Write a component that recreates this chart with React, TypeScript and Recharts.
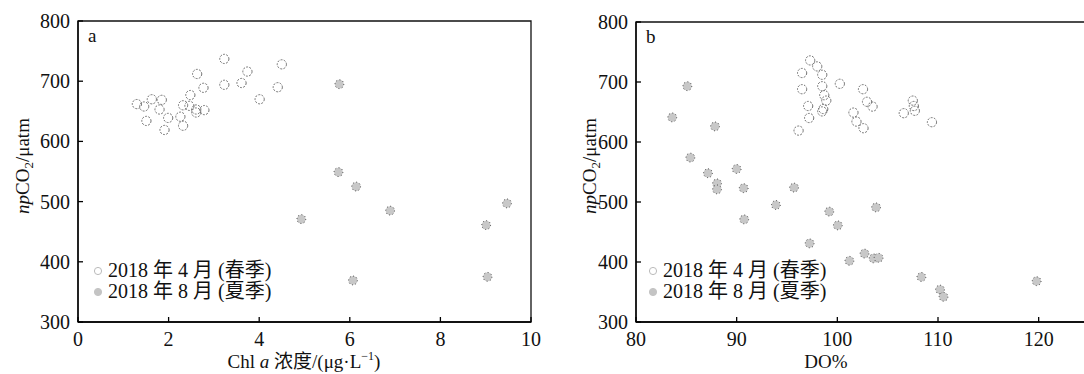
import { ScatterChart, Scatter, XAxis, YAxis, ReferenceArea, Label } from "recharts";

// panel a: Chl a vs npCO2
const springChl = [1.3, 1.46, 1.63, 1.85, 1.8, 1.51, 1.99, 1.91, 2.26, 2.32, 2.32, 2.46, 2.48, 2.61, 2.61, 2.79, 2.77, 2.63, 3.23, 3.23, 3.61, 3.74, 4.01, 4.41, 4.5];
const springCo2A = [662, 658, 670, 669, 653, 634, 639, 619, 641, 626, 660, 659, 677, 653, 648, 652, 689, 712, 737, 694, 697, 716, 670, 690, 728];
const summerChl = [5.77, 5.75, 6.14, 4.93, 6.89, 9.47, 9.01, 6.07, 9.04];
const summerCo2A = [695, 549, 525, 471, 485, 497, 461, 369, 375];

// panel b: DO% vs npCO2
const springDO = [97.3, 98.0, 96.5, 98.5, 96.5, 98.5, 98.7, 98.9, 98.6, 98.5, 97.1, 97.2, 96.15, 100.25, 102.55, 102.95, 103.5, 101.6, 101.9, 102.6, 107.5, 107.6, 107.7, 106.6, 109.4];
const springCo2B = [736, 726, 715, 712, 688, 693, 678, 669, 655, 651, 660, 640, 619, 697, 688, 667, 659, 649, 634, 623, 669, 660, 652, 648, 633];
const summerDO = [83.6, 85.1, 85.4, 87.15, 87.85, 88.05, 88.05, 90.0, 90.7, 90.75, 93.9, 95.7, 97.25, 99.2, 100.05, 101.2, 102.7, 103.6, 104.1, 103.85, 108.35, 110.2, 110.55, 119.8];
const summerCo2B = [641, 693, 574, 548, 626, 531, 521, 555, 523, 471, 495, 524, 431, 484, 461, 402, 414, 406, 407, 491, 375, 354, 342, 368];

const yTicks = [300, 400, 500, 600, 700, 800];
const chlTicks = [0, 2, 4, 6, 8, 10];
const doTicks = [80, 90, 100, 110, 120];
const legendLabels = ["2018 年 4 月 (春季)", "2018 年 8 月 (夏季)"];

const toPoints = (xs: number[], ys: number[]) => xs.map((x, i) => ({ x, y: ys[i] }));

const FONT = "Liberation Serif, DejaVu Serif, Noto Sans CJK SC, serif";

const YTick = (props: any) => {
  const { x, y, payload } = props;
  return (
    <g>
      <line x1={x} x2={x + 5} y1={y} y2={y} stroke="#000" strokeWidth={1.3} />
      <text x={x - 8} y={y} dy={7} textAnchor="end" style={{ fontSize: 20, fontFamily: FONT }} fill="#111">
        {payload.value}
      </text>
    </g>
  );
};

const XTick = (props: any) => {
  const { x, y, payload } = props;
  return (
    <g>
      <line x1={x} x2={x} y1={y} y2={y - 5} stroke="#000" strokeWidth={1.3} />
      <text x={x} y={y + 24} textAnchor="middle" style={{ fontSize: 20, fontFamily: FONT }} fill="#111">
        {payload.value}
      </text>
    </g>
  );
};

const SpringDot = (props: any) => (
  <circle cx={props.cx} cy={props.cy} r={4.6} fill="none" stroke="#6e6e6e" strokeWidth={1} strokeDasharray="2 1.3" />
);

const SummerDot = (props: any) => (
  <circle cx={props.cx} cy={props.cy} r={4.4} fill="#c8c8c8" stroke="#222" strokeWidth={1} strokeDasharray="0.8 2.6" />
);

const YTitle = ({ x }: { x: number }) => (
  <text x={x} y={166} transform={`rotate(-90 ${x} 166)`} textAnchor="middle" style={{ fontSize: 19, fontFamily: FONT }} fill="#111">
    <tspan fontStyle="italic">np</tspan>CO
    <tspan fontSize={13} dy={4}>2</tspan>
    <tspan dy={-4}>/μatm</tspan>
  </text>
);

const Legend = ({ left }: { left: number }) => (
  <svg style={{ position: "absolute", left, top: 258 }} width={200} height={44}>
    <circle cx={7} cy={13} r={3.6} fill="#fff" stroke="#bbb" strokeWidth={1} />
    <circle cx={7} cy={34} r={3.6} fill="#c4c4c4" stroke="#c4c4c4" strokeWidth={1} />
    <text x={17} y={19} style={{ fontSize: 20, fontFamily: FONT }} fill="#111">{legendLabels[0]}</text>
    <text x={17} y={40} style={{ fontSize: 20, fontFamily: FONT }} fill="#111">{legendLabels[1]}</text>
  </svg>
);

const Panel = ({ tag, xs, ys, xs2, ys2, domain, ticks, yWidth, margin, title, titleX, yTitleX }: any) => (
  <ScatterChart width={545} height={374} margin={margin} style={{ fontFamily: FONT }}>
    <XAxis
      type="number"
      dataKey="x"
      domain={domain}
      ticks={ticks}
      allowDataOverflow
      axisLine={{ stroke: "#000", strokeWidth: 1.3 }}
      tickLine={false}
      tickSize={0}
      tickMargin={0}
      tick={<XTick />}
      height={30}
      label={{
        content: () => (
          <text x={titleX} y={368} textAnchor="middle" style={{ fontSize: 19, fontFamily: FONT }} fill="#111">
            {title}
          </text>
        ),
      }}
    />
    <YAxis
      type="number"
      dataKey="y"
      domain={[300, 800]}
      ticks={yTicks}
      allowDataOverflow
      width={yWidth}
      axisLine={{ stroke: "#000", strokeWidth: 1.3 }}
      tickLine={false}
      tickSize={0}
      tickMargin={0}
      tick={<YTick />}
      label={{ content: () => <YTitle x={yTitleX} /> }}
    />
    <ReferenceArea x1={domain[0]} x2={domain[1]} y1={300} y2={800} fill="none" stroke="#111" strokeWidth={1.3} strokeOpacity={1}>
      <Label
        content={(p: any) => (
          <text x={p.viewBox.x + 10} y={p.viewBox.y + 21} style={{ fontSize: 19, fontFamily: FONT }} fill="#111">
            {tag}
          </text>
        )}
      />
    </ReferenceArea>
    <Scatter data={toPoints(xs, ys)} shape={<SpringDot />} isAnimationActive={false} />
    <Scatter data={toPoints(xs2, ys2)} shape={<SummerDot />} isAnimationActive={false} />
  </ScatterChart>
);

const chlTitle = (
  <>
    Chl <tspan fontStyle="italic">a</tspan> 浓度/(μg·L<tspan fontSize={12} dy={-8}>−1</tspan>
    <tspan dy={8}>)</tspan>
  </>
);

export default function App() {
  return (
    <div style={{ position: "fixed", left: 0, top: 0, width: 1084, height: 374, overflow: "hidden", background: "#fff", fontFamily: FONT }}>
      <div style={{ position: "absolute", left: 0, top: 0 }}>
        <Panel
          tag="a"
          xs={springChl}
          ys={springCo2A}
          xs2={summerChl}
          ys2={summerCo2A}
          domain={[0, 10]}
          ticks={chlTicks}
          yWidth={78}
          margin={{ top: 21, right: 14, bottom: 22, left: 0 }}
          title={chlTitle}
          titleX={304}
          yTitleX={29}
        />
        <Legend left={91} />
      </div>
      <div style={{ position: "absolute", left: 545, top: 0 }}>
        <Panel
          tag="b"
          xs={springDO}
          ys={springCo2B}
          xs2={summerDO}
          ys2={summerCo2B}
          domain={[80, 125]}
          ticks={doTicks}
          yWidth={91}
          margin={{ top: 22, right: 1, bottom: 22, left: 0 }}
          title="DO%"
          titleX={281}
          yTitleX={51}
        />
        <Legend left={101} />
      </div>
    </div>
  );
}
